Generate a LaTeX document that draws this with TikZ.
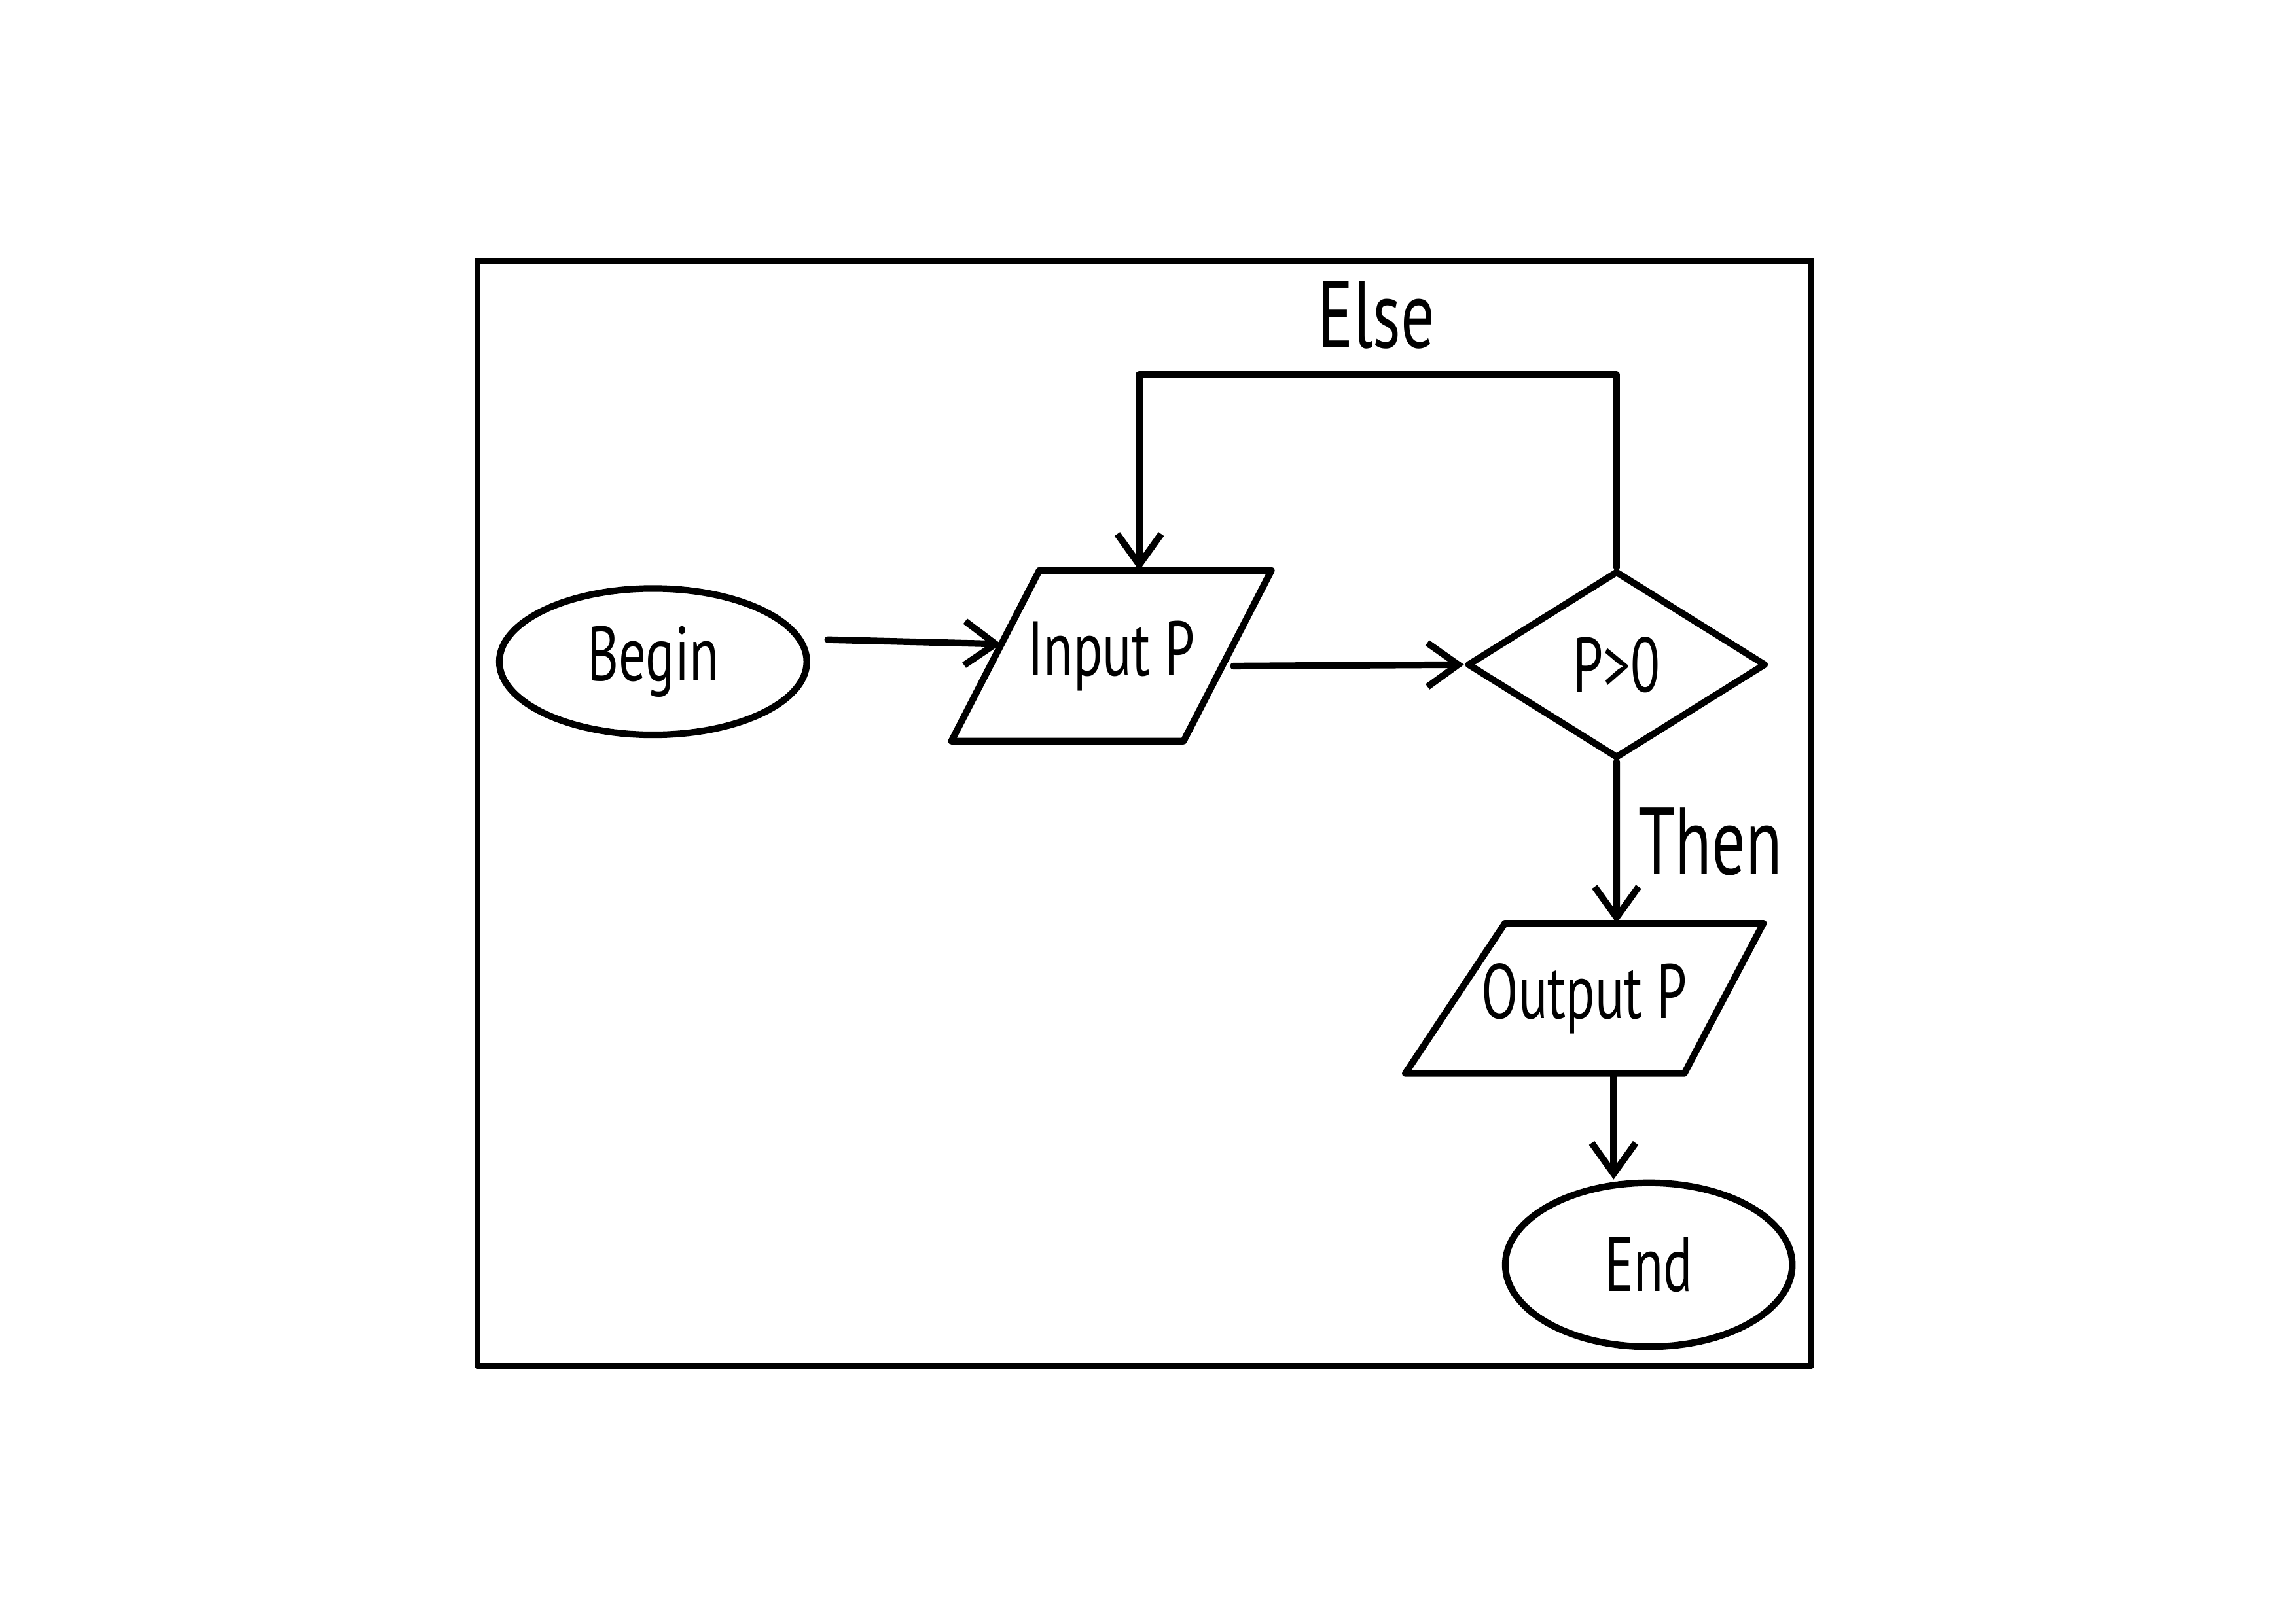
\documentclass[tikz,border=0pt]{standalone}
\usepackage{fontspec}
\newfontfamily\hand[FakeStretch=0.7]{PT Sans}
\usetikzlibrary{shapes.geometric,arrows.meta}
\begin{document}
\begin{tikzpicture}[x=0.02cm,y=-0.02cm,
  line width=2.6pt, line join=round, line cap=round,
  every node/.style={font=\hand\fontsize{30}{36}\selectfont},
  terminal/.style={draw, ellipse, inner sep=0pt},
  iobox/.style={rectangle, inner sep=0pt},
  decision/.style={draw, diamond, inner sep=0pt},
  flow/.style={-{Straight Barb[length=0.42cm,width=0.6cm]}},
  lbl/.style={inner sep=0pt, font=\hand\fontsize{37}{44}\selectfont}]
\useasboundingbox (0,0) rectangle (1568,1109);

% outer frame
\draw[line width=2.4pt] (326,178) rectangle (1237,933);

% blocks
\node[terminal, minimum width=4.2cm, minimum height=2cm] (begin) at (446,452) {Begin};
\node[iobox, minimum width=4.28cm, minimum height=2.24cm] (input) at (759,448) {Input P};
\node[decision, minimum width=4.08cm, minimum height=2.56cm] (dec) at (1104,454) {P>0};
\node[iobox, minimum width=4.8cm, minimum height=1.96cm] (output) at (1082,682) {Output P};
\node[terminal, minimum width=3.92cm, minimum height=2.24cm] (end) at (1126,864) {End};

% parallelogram outlines of the input/output boxes
\draw (input.south west) -- ([xshift=1.2cm]input.north west) -- (input.north east)
      -- ([xshift=-1.2cm]input.south east) -- cycle;
\draw (output.south west) -- ([xshift=1.36cm]output.north west) -- (output.north east)
      -- ([xshift=-1.08cm]output.south east) -- cycle;

% connectors
\draw[flow] ([xshift=0.24cm,yshift=0.3cm]begin.east) -- ([xshift=0.68cm,yshift=0.16cm]input.west);
\draw[flow] ([xshift=-0.52cm,yshift=-0.14cm]input.east) -- (dec.west);
\draw[flow] (dec.north) -- ++(0,-132) -| ([xshift=0.38cm]input.north);
\draw[flow] (dec.south) -- ([xshift=0.44cm]output.north);
\draw[flow] ([xshift=0.4cm]output.south) -- ([xshift=0.4cm]output.south |- end.north);

% branch labels
\node[lbl] (elselbl) at (940,215) {Else};
\node[lbl] (thenlbl) at (1168,575) {Then};
\end{tikzpicture}
\end{document}
